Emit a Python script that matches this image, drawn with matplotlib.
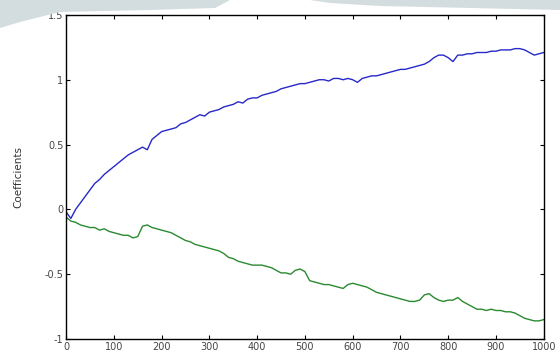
import numpy as np
import matplotlib
matplotlib.use('Agg')
from matplotlib import pyplot as plt
from matplotlib.patches import Polygon

# iteration index
iters = list(range(0, 1001, 10))

coef_blue = [-0.02, -0.07, 0.00, 0.05, 0.10, 0.15, 0.20, 0.23, 0.27, 0.30,
             0.33, 0.36, 0.39, 0.42, 0.44, 0.46, 0.48, 0.46, 0.54, 0.57,
             0.60, 0.61, 0.62, 0.63, 0.66, 0.67, 0.69, 0.71, 0.73, 0.72,
             0.75, 0.76, 0.77, 0.79, 0.80, 0.81, 0.83, 0.82, 0.85, 0.86,
             0.86, 0.88, 0.89, 0.90, 0.91, 0.93, 0.94, 0.95, 0.96, 0.97,
             0.97, 0.98, 0.99, 1.00, 1.00, 0.99, 1.01, 1.01, 1.00, 1.01,
             1.00, 0.98, 1.01, 1.02, 1.03, 1.03, 1.04, 1.05, 1.06, 1.07,
             1.08, 1.08, 1.09, 1.10, 1.11, 1.12, 1.14, 1.17, 1.19, 1.19,
             1.17, 1.14, 1.19, 1.19, 1.20, 1.20, 1.21, 1.21, 1.21, 1.22,
             1.22, 1.23, 1.23, 1.23, 1.24, 1.24, 1.23, 1.21, 1.19, 1.20,
             1.21]

coef_green = [-0.06, -0.09, -0.10, -0.12, -0.13, -0.14, -0.14, -0.16, -0.15, -0.17,
              -0.18, -0.19, -0.20, -0.20, -0.22, -0.21, -0.13, -0.12, -0.14, -0.15,
              -0.16, -0.17, -0.18, -0.20, -0.22, -0.24, -0.25, -0.27, -0.28, -0.29,
              -0.30, -0.31, -0.32, -0.34, -0.37, -0.38, -0.40, -0.41, -0.42, -0.43,
              -0.43, -0.43, -0.44, -0.45, -0.47, -0.49, -0.49, -0.50, -0.47, -0.46,
              -0.48, -0.55, -0.56, -0.57, -0.58, -0.58, -0.59, -0.60, -0.61, -0.58,
              -0.57, -0.58, -0.59, -0.60, -0.62, -0.64, -0.65, -0.66, -0.67, -0.68,
              -0.69, -0.70, -0.71, -0.71, -0.70, -0.66, -0.65, -0.68, -0.70, -0.71,
              -0.70, -0.70, -0.68, -0.71, -0.73, -0.75, -0.77, -0.77, -0.78, -0.77,
              -0.78, -0.78, -0.79, -0.79, -0.80, -0.82, -0.84, -0.85, -0.86, -0.86,
              -0.85]

xticks = list(range(0, 1001, 100))
yticks = [-1, -0.5, 0, 0.5, 1, 1.5]
ytick_labels = ['-1', '-0.5', '0', '0.5', '1', '1.5']


def main():
    fig = plt.figure(figsize=(5.6, 3.55), dpi=100)

    # faint watermark band along the top edge (figure pixel outline -> fraction)
    W, H = 560.0, 355.0
    left_band = [(0, 0), (230, 0), (215, 8), (150, 10), (60, 12), (20, 22), (0, 28)]
    right_band = [(310, 0), (560, 0), (560, 10), (470, 8), (380, 6), (330, 3)]
    for band in (left_band, right_band):
        pts = [(px / W, 1 - py / H) for px, py in band]
        fig.patches.append(Polygon(pts, closed=True, transform=fig.transFigure,
                                   facecolor='#d3dde0', edgecolor='none', zorder=0))

    ax = fig.add_axes([0.118, 0.045, 0.853, 0.913])

    ax.plot(iters, coef_blue, color='#2828c8', lw=1.0)
    ax.plot(iters, coef_green, color='#2a8a30', lw=1.0)

    ax.set_xlim(0, 1000)
    ax.set_ylim(-1, 1.5)
    ax.set_xticks(xticks)
    ax.set_yticks(yticks)
    ax.set_yticklabels(ytick_labels)
    ax.tick_params(direction='in', top=True, right=True, length=3,
                   labelsize=7, labelcolor='#444444', pad=2)
    for s in ax.spines.values():
        s.set_linewidth(1.0)
    ax.set_ylabel('Coefficients', fontsize=7.5, color='#333333', labelpad=15)

    fig.savefig('out.png', dpi=100)


if __name__ == '__main__':
    main()
